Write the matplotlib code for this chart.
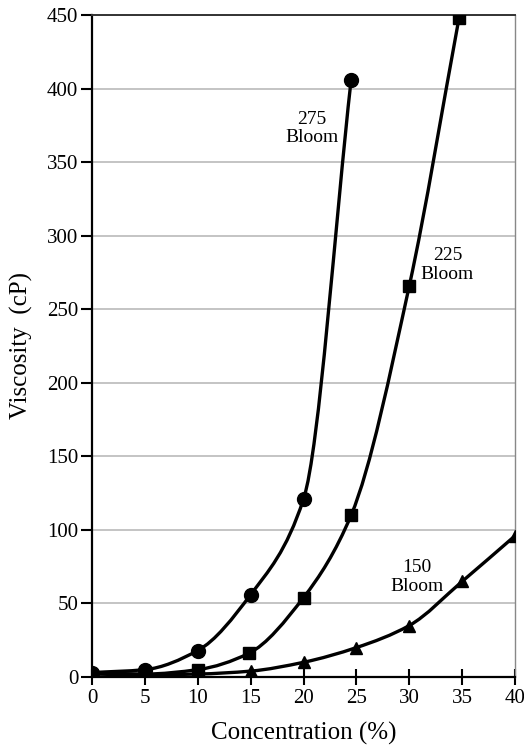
import numpy as np
import matplotlib
matplotlib.use("Agg")
import matplotlib.pyplot as plt
from matplotlib.path import Path
from matplotlib.patches import PathPatch

plt.rcParams['font.family'] = ['Liberation Serif', 'DejaVu Serif']

# values
conc_275 = [0, 5, 10, 15, 20, 24.5]
visc_275 = [3, 5, 18, 56, 121, 406]

conc_225 = [0, 5, 10, 14.8, 20, 24.5, 30, 34.7]
visc_225 = [3, 2, 5, 16, 54, 110, 266, 448]

conc_150 = [0, 5, 10, 15, 20, 25, 30, 35, 40]
visc_150 = [2, 1.5, 2, 4, 10, 20, 35, 65, 96]

labels = ['275\nBloom', '225\nBloom', '150\nBloom']
label_pos = [(20.8, 373), (33.6, 280), (30.7, 68)]

x_ticks = list(range(0, 41, 5))
y_ticks = list(range(0, 451, 50))


def smooth_path(xs, ys):
    # cubic bezier through the points, pchip-style tangents (no overshoot)
    xs = np.asarray(xs, float)
    ys = np.asarray(ys, float)
    n = len(xs)
    h = np.diff(xs)
    d = np.diff(ys) / h
    m = np.zeros(n)
    m[0], m[-1] = d[0], d[-1]
    for i in range(1, n - 1):
        if d[i - 1] * d[i] <= 0:
            m[i] = 0
        else:
            w1 = 2 * h[i] + h[i - 1]
            w2 = h[i] + 2 * h[i - 1]
            m[i] = (w1 + w2) / (w1 / d[i - 1] + w2 / d[i])
    verts = [(xs[0], ys[0])]
    codes = [Path.MOVETO]
    for i in range(n - 1):
        dx = h[i] / 3
        verts += [(xs[i] + dx, ys[i] + dx * m[i]),
                  (xs[i + 1] - dx, ys[i + 1] - dx * m[i + 1]),
                  (xs[i + 1], ys[i + 1])]
        codes += [Path.CURVE4] * 3
    return Path(verts, codes)


fig = plt.figure(figsize=(5.24, 7.46), dpi=100)
ax = fig.add_axes([0.1756, 0.0925, 0.8074, 0.8874])

series = [
    (conc_275, visc_275, 'o', 10, 0),
    (conc_225, visc_225, 's', 8.5, 2),
    (conc_150, visc_150, '^', 9, 3),
]
for xs, ys, mk, ms, skip in series:
    ax.add_patch(PathPatch(smooth_path(xs, ys), fill=False, ec='black', lw=2.4, zorder=3))
    ax.plot(xs[skip:], ys[skip:], ls='none', marker=mk, ms=ms, color='black', zorder=4)

for txt, (lx, ly) in zip(labels, label_pos):
    ax.text(lx, ly, txt, ha='center', va='center', fontsize=14, linespacing=1.1)

ax.set_xlim(0, 40)
ax.set_ylim(0, 450)
ax.set_xticks(x_ticks)
ax.set_yticks(y_ticks)
ax.tick_params(axis='x', direction='inout', length=12, width=1.5, labelsize=15, pad=3)
ax.tick_params(axis='y', direction='out', length=8, width=1.5, labelsize=15, pad=2)
ax.grid(axis='y', color='#c4c4c4', lw=1.4)
ax.set_axisbelow(True)

ax.spines['left'].set_linewidth(1.6)
ax.spines['bottom'].set_linewidth(1.6)
ax.spines['top'].set_linewidth(1.4)
ax.spines['top'].set_color('#333333')
ax.spines['right'].set_linewidth(1.0)
ax.spines['right'].set_color('#888888')

ax.set_xlabel('Concentration (%)', fontsize=18, labelpad=10)
ax.set_ylabel('Viscosity  (cP)', fontsize=18, labelpad=10)

fig.savefig('out.png', dpi=100)
